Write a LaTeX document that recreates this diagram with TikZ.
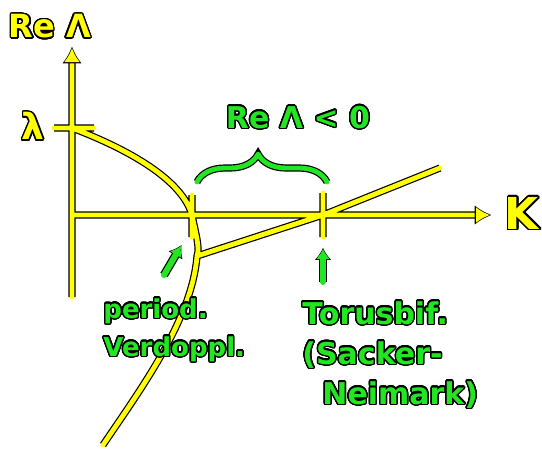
\documentclass[tikz,border=0pt]{standalone}
\usepackage{fontspec}
\setmainfont{DejaVu Sans}
\usepackage{contour}
\usetikzlibrary{arrows.meta,decorations.pathreplacing}
\definecolor{penyellow}{HTML}{FFFF00}
\definecolor{pengreen}{HTML}{22E622}
\contourlength{0.7pt}
\contournumber{24}
\newcommand{\outl}[1]{\contour{black}{#1}}

\begin{document}
\begin{tikzpicture}[
  x=0.5pt,y=-0.5pt,
  ypen/.style={draw=penyellow,line width=2.4pt,line cap=round,line join=round,
    preaction={draw=black,line width=3.6pt}},
  ytip/.style={draw=penyellow,line width=2.4pt,line cap=butt,
    -{Latex[length=7pt,width=8pt]},
    preaction={draw=black,line width=3.6pt,line cap=butt,
      -{Latex[length=8.5pt,width=10pt]},shorten >=-0.8pt}},
  gpen/.style={draw=pengreen,line width=2.4pt,line cap=round,line join=round,
    preaction={draw=black,line width=3.6pt}},
  garrow/.style={draw=pengreen,line width=3pt,line cap=round,
    -{Latex[length=5pt,width=7pt]},
    preaction={draw=black,line width=4.2pt,-{Latex[length=6pt,width=8.5pt]},shorten >=-0.6pt}},
  ylab/.style={text=penyellow,inner sep=0pt},
  glab/.style={text=pengreen,inner sep=0pt,align=left},
]
\useasboundingbox[fill=white] (0,0) rectangle (542,451);

% ---------- axes and branches ----------
\coordinate (O) at (72,215);
\coordinate (ybot) at (72,297);
\coordinate (ytop) at (72,62);
\coordinate (ytip) at (72,48);
\coordinate (xend) at (476,215);
\coordinate (xtip) at (490,215);
\coordinate (lam) at (72,128);
\coordinate (pd) at (192,215);
\coordinate (tb) at (323,215);
\coordinate (jn) at (197,256);
\coordinate (cend) at (103,445);
\coordinate (lend) at (440,168);
% all yellow strokes in one path, so the crossings merge
\draw[ypen] (ybot) -- (ytop) (O) -- (xend)
  (lam) .. controls (130,150) and (182,180) .. (pd)
  .. controls (196,235) and (200,248) .. (jn)
  .. controls (192,320) and (140,390) .. (cend)
  (jn) -- (tb) -- (lend)
  ([xshift=-9]lam) -- ([xshift=11]lam)
  ([yshift=-11]pd) -- ([yshift=10]pd)
  ([yshift=-11]tb) -- ([yshift=11]tb);
\draw[ytip] (ytop) -- (ytip);
\draw[ytip] (xend) -- (xtip);
\node[ylab,font=\bfseries\fontsize{16}{16}\selectfont] (relab) at (50,27) {\outl{Re Λ}};
\node[ylab,font=\bfseries\fontsize{22}{22}\selectfont] (klab) at (522,214) {\outl{K}};
\node[ylab,font=\bfseries\fontsize{18}{18}\selectfont] (lamlab) at (33,127) {\outl{λ}};

% ---------- stable range ----------
\node[glab,font=\bfseries\fontsize{15}{15}\selectfont] (cond) at (298,118) {\outl{Re Λ < 0}};
\coordinate (bl) at (197,182);
\coordinate (br) at (327,182);
\draw[gpen,decorate,decoration={brace,amplitude=14pt,aspect=0.47}] (bl) -- (br);

% ---------- bifurcation labels ----------
\node[glab,anchor=north west,font=\bfseries\fontsize{13}{19}\selectfont] (pdlab) at (103,298)
  {\outl{period.}\\\outl{Verdoppl.}};
\node[glab,anchor=north west,font=\bfseries\fontsize{15}{20}\selectfont] (tblab) at (302,301)
  {\outl{Torusbif.}\\\outl{(Sacker-}\\\hspace*{10pt}\outl{Neimark)}};
\coordinate (pdfrom) at (164,275);
\coordinate (pdto) at (181,246);
\coordinate (tbfrom) at (323,282);
\coordinate (tbto) at (323,249);
\draw[garrow] (pdfrom) -- (pdto);
\draw[garrow] (tbfrom) -- (tbto);

\end{tikzpicture}
\end{document}
